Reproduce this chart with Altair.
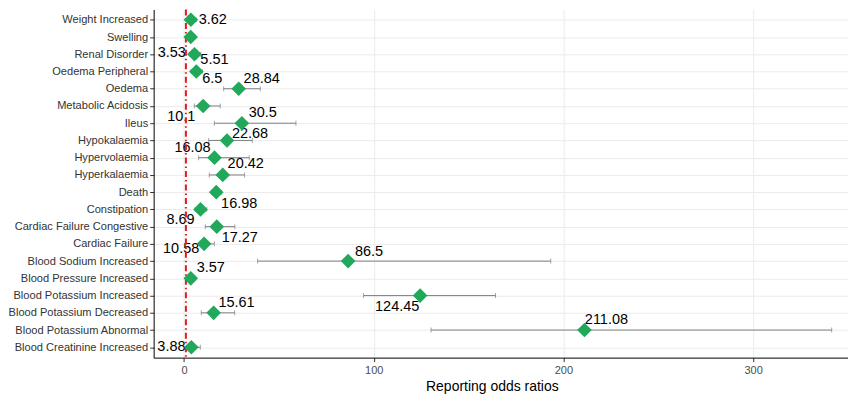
import altair as alt
import pandas as pd

categories = [
    "Weight Increased", "Swelling", "Renal Disorder", "Oedema Peripheral", "Oedema",
    "Metabolic Acidosis", "Ileus", "Hypokalaemia", "Hypervolaemia", "Hyperkalaemia",
    "Death", "Constipation", "Cardiac Failure Congestive", "Cardiac Failure",
    "Blood Sodium Increased", "Blood Pressure Increased", "Blood Potassium Increased",
    "Blood Potassium Decreased", "Blood Potassium Abnormal", "Blood Creatinine Increased",
]
ror = [3.62, 3.53, 5.51, 6.5, 28.84, 10.1, 30.5, 22.68, 16.08, 20.42,
       16.98, 8.69, 17.27, 10.58, 86.5, 3.57, 124.45, 15.61, 211.08, 3.88]
ci_lower = [2.0, 2.2, 3.0, 3.8, 20.9, 5.4, 16.0, 13.0, 7.7, 13.3,
            14.5, 5.9, 11.2, 8.6, 38.8, 2.1, 94.6, 9.1, 130.2, 1.7]
ci_upper = [6.5, 5.6, 8.8, 9.6, 40.2, 19.1, 59.0, 36.0, 34.4, 31.9,
            19.8, 12.0, 26.8, 16.0, 193.3, 6.1, 164.2, 26.7, 341.4, 8.6]
labels = ["3.62", "3.53", "5.51", "6.5", "28.84", "10.1", "30.5", "22.68", "16.08", "20.42",
          "16.98", "8.69", "17.27", "10.58", "86.5", "3.57", "124.45", "15.61", "211.08", "3.88"]
# repelled label nudges (pixels)
label_dx = [22, -19, 20, 16, 23, -22, 21, 23, -22, 23, 23, -20, 23, -23, 21, 20, -23, 23, 22, -20]
label_dy = [0, 16, 6, 8, -10, 11, -10, -6, -10, -11, 12, 11, 11, 5, -9, -10, 11, -10, -10, 0]

ref_line = [1]
x_ticks = [0, 100, 200, 300]

df = pd.DataFrame({"category": categories, "ror": ror, "lo": ci_lower,
                   "hi": ci_upper, "label": labels})

FONT = "Liberation Sans"
GREEN = "#21A85B"
RED = "#E41A1C"
GREY = "#7F7F7F"

xscale = alt.Scale(domain=[-16, 350], nice=False, zero=False)
yscale = alt.Scale(type="point", padding=0.6)

x_axis = alt.Axis(values=x_ticks, grid=True, gridColor="#EBEBEB", gridWidth=1,
                  domainColor="black", tickColor="#333333", tickSize=4,
                  labelFont=FONT, labelFontSize=11, labelColor="#4D4D4D", labelPadding=3,
                  title="Reporting odds ratios", titleFont=FONT, titleFontSize=14,
                  titleFontWeight="normal", titleColor="black", titlePadding=4, titleX=339)
y_axis = alt.Axis(grid=True, gridColor="#EBEBEB", gridWidth=1, domainColor="black",
                  tickColor="#333333", tickSize=4, labelFont=FONT, labelFontSize=11.1,
                  labelColor="#333333", labelPadding=2, title=None,
                  minExtent=144, maxExtent=144)

base = alt.Chart(df)
y_enc = alt.Y("category:N", sort=categories, scale=yscale, axis=y_axis)

bars = base.mark_rule(color=GREY, strokeWidth=1).encode(
    x=alt.X("lo:Q", scale=xscale, axis=x_axis), x2="hi:Q", y=y_enc)
cap_lo = base.mark_tick(color=GREY, thickness=1, size=5, orient="vertical").encode(
    x=alt.X("lo:Q", scale=xscale), y=alt.Y("category:N", sort=categories, scale=yscale))
cap_hi = base.mark_tick(color=GREY, thickness=1, size=5, orient="vertical").encode(
    x=alt.X("hi:Q", scale=xscale), y=alt.Y("category:N", sort=categories, scale=yscale))

texts = []
for i in range(len(categories)):
    texts.append(
        alt.Chart(df.iloc[[i]]).mark_text(
            dx=label_dx[i], dy=label_dy[i], font=FONT, fontSize=14.5, color="black",
            align="center", baseline="middle"
        ).encode(x=alt.X("ror:Q", scale=xscale),
                 y=alt.Y("category:N", sort=categories, scale=yscale),
                 text="label:N")
    )

vline = alt.Chart(pd.DataFrame({"x": ref_line})).mark_rule(
    color=RED, strokeWidth=2, strokeDash=[6, 3, 1.5, 3]
).encode(x=alt.X("x:Q", scale=xscale))

points = base.mark_point(shape="diamond", filled=True, size=215, color=GREEN, opacity=1).encode(
    x=alt.X("ror:Q", scale=xscale), y=alt.Y("category:N", sort=categories, scale=yscale))

chart = alt.layer(bars, cap_lo, cap_hi, *texts, vline, points).properties(
    width=696, height=349, padding={"left": 0, "top": 0, "right": 0, "bottom": 0},
    background="white"
).configure_view(strokeWidth=0)

chart.save("out.html", embed_options={"renderer": "svg", "actions": False})
